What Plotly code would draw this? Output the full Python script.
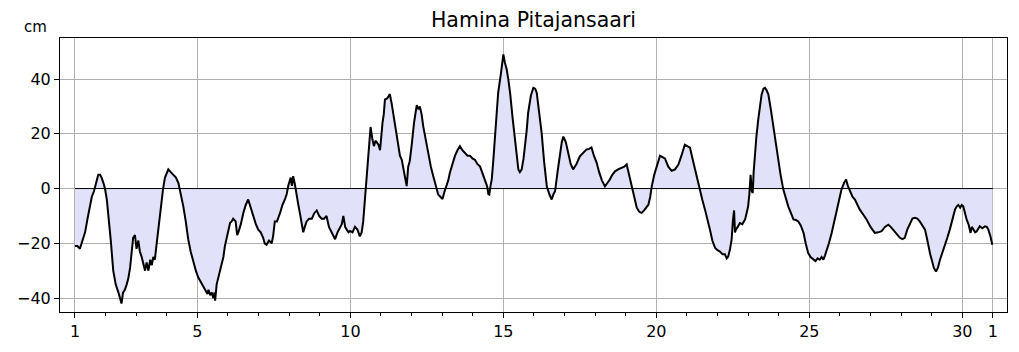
import plotly.graph_objects as go

days = [1.00,1.08,1.16,1.25,1.33,1.41,1.49,1.55,1.62,1.70,1.76,1.82,1.87,1.93,1.98,2.04,2.09,2.17,2.25,2.33,2.42,2.47,2.52,2.57,2.63,2.69,2.74,2.80,2.85,2.90,2.96,3.01,3.07,3.12,3.18,3.23,3.29,3.34,3.40,3.46,3.51,3.56,3.61,3.67,3.72,3.77,3.83,3.88,3.94,4.00,4.05,4.13,4.21,4.30,4.38,4.46,4.54,4.62,4.70,4.78,4.87,4.95,5.03,5.11,5.19,5.27,5.33,5.36,5.42,5.47,5.52,5.56,5.58,5.63,5.69,5.77,5.85,5.90,5.96,6.02,6.07,6.12,6.17,6.25,6.30,6.34,6.42,6.50,6.58,6.66,6.74,6.83,6.91,6.99,7.07,7.15,7.20,7.26,7.34,7.43,7.48,7.53,7.60,7.70,7.78,7.86,7.92,7.97,8.01,8.05,8.09,8.13,8.18,8.24,8.30,8.35,8.40,8.46,8.51,8.57,8.65,8.74,8.82,8.90,8.98,9.06,9.14,9.22,9.30,9.39,9.45,9.50,9.58,9.66,9.72,9.77,9.83,9.88,9.94,9.99,10.07,10.15,10.23,10.31,10.37,10.42,10.46,10.50,10.55,10.59,10.63,10.66,10.72,10.77,10.82,10.86,10.92,10.97,11.01,11.05,11.09,11.13,11.21,11.29,11.35,11.40,11.48,11.57,11.62,11.68,11.72,11.75,11.80,11.84,11.89,11.94,12.00,12.08,12.17,12.22,12.27,12.33,12.38,12.46,12.55,12.63,12.71,12.79,12.87,12.94,13.01,13.08,13.15,13.20,13.25,13.33,13.42,13.50,13.58,13.66,13.75,13.83,13.91,13.99,14.07,14.15,14.24,14.30,14.34,14.40,14.47,14.51,14.54,14.58,14.62,14.67,14.73,14.78,14.83,14.92,15.00,15.05,15.11,15.16,15.22,15.30,15.38,15.44,15.49,15.54,15.60,15.66,15.71,15.76,15.81,15.90,15.98,16.04,16.09,16.17,16.25,16.33,16.42,16.50,16.58,16.64,16.69,16.77,16.85,16.91,16.96,17.04,17.12,17.20,17.28,17.39,17.50,17.61,17.72,17.80,17.88,17.96,18.05,18.13,18.22,18.32,18.40,18.48,18.56,18.65,18.75,18.86,18.95,19.03,19.11,19.19,19.28,19.36,19.44,19.52,19.60,19.67,19.74,19.80,19.85,19.93,20.01,20.06,20.12,20.20,20.28,20.39,20.50,20.61,20.72,20.82,20.93,21.01,21.10,21.18,21.26,21.34,21.42,21.50,21.59,21.67,21.75,21.83,21.92,22.00,22.08,22.16,22.24,22.30,22.35,22.41,22.46,22.50,22.54,22.57,22.60,22.66,22.73,22.81,22.90,22.95,23.00,23.04,23.08,23.12,23.15,23.18,23.22,23.27,23.33,23.38,23.44,23.50,23.55,23.60,23.66,23.74,23.82,23.90,23.98,24.06,24.15,24.23,24.31,24.40,24.48,24.56,24.64,24.72,24.81,24.88,24.96,25.04,25.13,25.20,25.27,25.34,25.40,25.46,25.51,25.56,25.64,25.73,25.81,25.89,25.97,26.05,26.13,26.20,26.26,26.33,26.41,26.49,26.57,26.65,26.76,26.87,27.00,27.14,27.25,27.36,27.47,27.58,27.66,27.74,27.85,27.96,28.04,28.12,28.20,28.29,28.37,28.45,28.53,28.61,28.70,28.78,28.84,28.89,28.95,29.00,29.07,29.14,29.20,29.27,29.35,29.43,29.51,29.59,29.67,29.76,29.82,29.87,29.93,29.98,30.03,30.08,30.14,30.20,30.27,30.31,30.36,30.42,30.47,30.52,30.57,30.65,30.74,30.80,30.85,30.92,30.98]

level_cm = [-21,-21,-22,-19,-16,-11,-6,-3,-1,3,5,5,4,2,0,-4,-9,-19,-30,-35,-38,-40,-42,-38,-37,-35,-33,-29,-22,-18,-17,-22,-19,-23,-25,-27,-30,-27,-30,-26,-28,-25,-26,-20,-15,-9,-4,0,4,6,7,6,5,4,2,-2,-6.5,-12,-18.5,-23,-27,-30,-32.5,-34,-36,-37,-38.5,-37,-39,-38,-40,-38,-41,-35,-32,-28,-25,-21,-17.5,-14,-12.5,-12,-11,-12,-17,-16,-13,-9,-6,-4,-7,-10,-13,-15,-16,-18,-20,-20.5,-19,-20,-17,-12,-12,-9,-6,-4,-2,1,3,4,1,4.5,2,-3,-6,-9,-12,-16,-14,-12,-11,-11,-9,-8,-10,-11,-11,-10,-14,-16,-17,-18.5,-16,-14,-13,-10,-14,-15,-16,-15.5,-16,-14,-15,-17.5,-16,-12,-6,0,7,12,18,22.5,18,15.5,17.5,17,16,14,20,24,27,32.5,33,34.5,31,27.5,21,15.5,12,10.5,8,7,3,0.9,8,10,15.5,24,30.5,29,30,27,22.8,18,13,8,4.5,1,-2.2,-3,-3.8,-1,1,3,5.7,9,12,14,15.5,14,13,12,12,11,10.5,9,8,6,4.5,2.5,0.8,-2,-2.2,1,3.3,10,20,28,35,42,49,46,43.5,40,35,26,17.5,11,7,6,7,11,15.5,21,27.7,34,36.8,36.5,35,28,20.4,10,0.8,-2,-4,-2,-1,6,13,17,19,17,13,9,7,9,11.8,13,14.3,14.5,15,12,9.4,6,3,0.8,2,3.3,5,6.3,7,7.6,8,8.8,5,0.8,-4,-7,-8.5,-8.9,-8,-7,-5.9,-3,0.8,5,8.2,10.5,12,11.5,11,8,6.5,7,8.8,12,16,15.5,14.9,11,7,3,-0.4,-4,-7.7,-11,-15,-19,-21.7,-22.5,-23,-24,-24,-25.5,-24.8,-22,-18.7,-12,-8,-16,-15,-14,-12.6,-13,-11.3,-9,-6.5,-2,5,-1,-1.6,6,13,19,25.2,30,34.4,36.5,36.8,36,34.4,29,22.8,16,10.6,5,-0.4,-4,-6.5,-9,-11.3,-11.5,-12,-13.5,-16.2,-20,-23.5,-25,-26,-26.5,-25.5,-26,-25,-26,-24.5,-23,-20,-16.2,-12,-7.7,-4,-0.4,2,3.3,1,-1,-3,-4,-6,-7.7,-9.5,-11.3,-14,-16.2,-16,-15.6,-14,-13.2,-14,-15,-16.5,-18,-18.5,-18,-15,-12.6,-11,-10.7,-11,-12,-13.5,-15,-18,-21,-24,-26,-29,-30.3,-29,-26,-23.5,-21,-18,-15,-11,-7.7,-6.5,-6,-7,-6,-6.5,-9,-11.3,-13,-16.2,-14,-15,-16,-15.6,-14.5,-13.8,-14.5,-13.8,-14,-15,-17.5,-20.5]

major_tick_vals = [1, 5, 10, 15, 20, 25, 30, 31]
major_tick_text = ["1", "5", "10", "15", "20", "25", "30", "1"]
minor_tick_vals = [d for d in range(1, 32) if d not in major_tick_vals]
y_tick_vals = [-40, -20, 0, 20, 40]
baseline_x = [1, 31]
baseline_y = [0, 0]
title_text = "Hamina Pitajansaari"
unit_text = "cm"

FONT = "DejaVu Sans"
X_RANGE = [0.51, 31.46]

fig = go.Figure()
fig.add_trace(go.Scatter(
    x=days, y=level_cm, mode="lines", fill="tozeroy",
    fillcolor="rgb(225,225,250)",
    line=dict(color="black", width=2),
    showlegend=False, hoverinfo="skip"))
fig.add_trace(go.Scatter(
    x=baseline_x, y=baseline_y, mode="lines",
    line=dict(color="black", width=1),
    showlegend=False, hoverinfo="skip"))

fig.update_layout(
    width=1019, height=352,
    margin=dict(l=60, r=12, t=38, b=40),
    paper_bgcolor="white", plot_bgcolor="white",
    font=dict(family=FONT, size=16, color="black"),
    title=dict(text=title_text, x=0.5, xref="paper", xanchor="center",
               y=1 - 20 / 352, yanchor="middle",
               font=dict(family=FONT, size=20.5, color="black")),
    xaxis=dict(
        range=X_RANGE, tickmode="array",
        tickvals=major_tick_vals, ticktext=major_tick_text,
        ticks="outside", ticklen=5, tickwidth=1, tickcolor="black",
        showline=True, linecolor="black", linewidth=1, mirror=True,
        showgrid=True, gridcolor="#b0b0b0", gridwidth=1,
        zeroline=False,
        tickfont=dict(family=FONT, size=16, color="black"),
    ),
    xaxis2=dict(
        range=X_RANGE, overlaying="x", side="bottom", anchor="y",
        tickmode="array", tickvals=minor_tick_vals,
        ticks="outside", ticklen=3, tickwidth=1, tickcolor="black",
        showticklabels=False, showgrid=False, showline=False,
        zeroline=False,
    ),
    yaxis=dict(
        range=[-45.1, 55], tickmode="array", tickvals=y_tick_vals,
        ticks="outside", ticklen=5, tickwidth=1, tickcolor="black",
        showline=True, linecolor="black", linewidth=1, mirror=True,
        showgrid=True, gridcolor="#b0b0b0", gridwidth=1,
        zeroline=False,
        tickfont=dict(family=FONT, size=16, color="black"),
    ),
    annotations=[dict(
        text=unit_text, xref="paper", yref="paper",
        x=(35 - 60) / 947, y=(312 - 27) / 274,
        xanchor="center", yanchor="middle", showarrow=False,
        font=dict(family=FONT, size=15, color="black"))],
)
# invisible trace so the minor-tick axis is drawn
fig.add_trace(go.Scatter(x=[X_RANGE[0]], y=[0], xaxis="x2", mode="markers",
                         marker=dict(opacity=0), showlegend=False,
                         hoverinfo="skip"))

fig.write_html("out.html")
